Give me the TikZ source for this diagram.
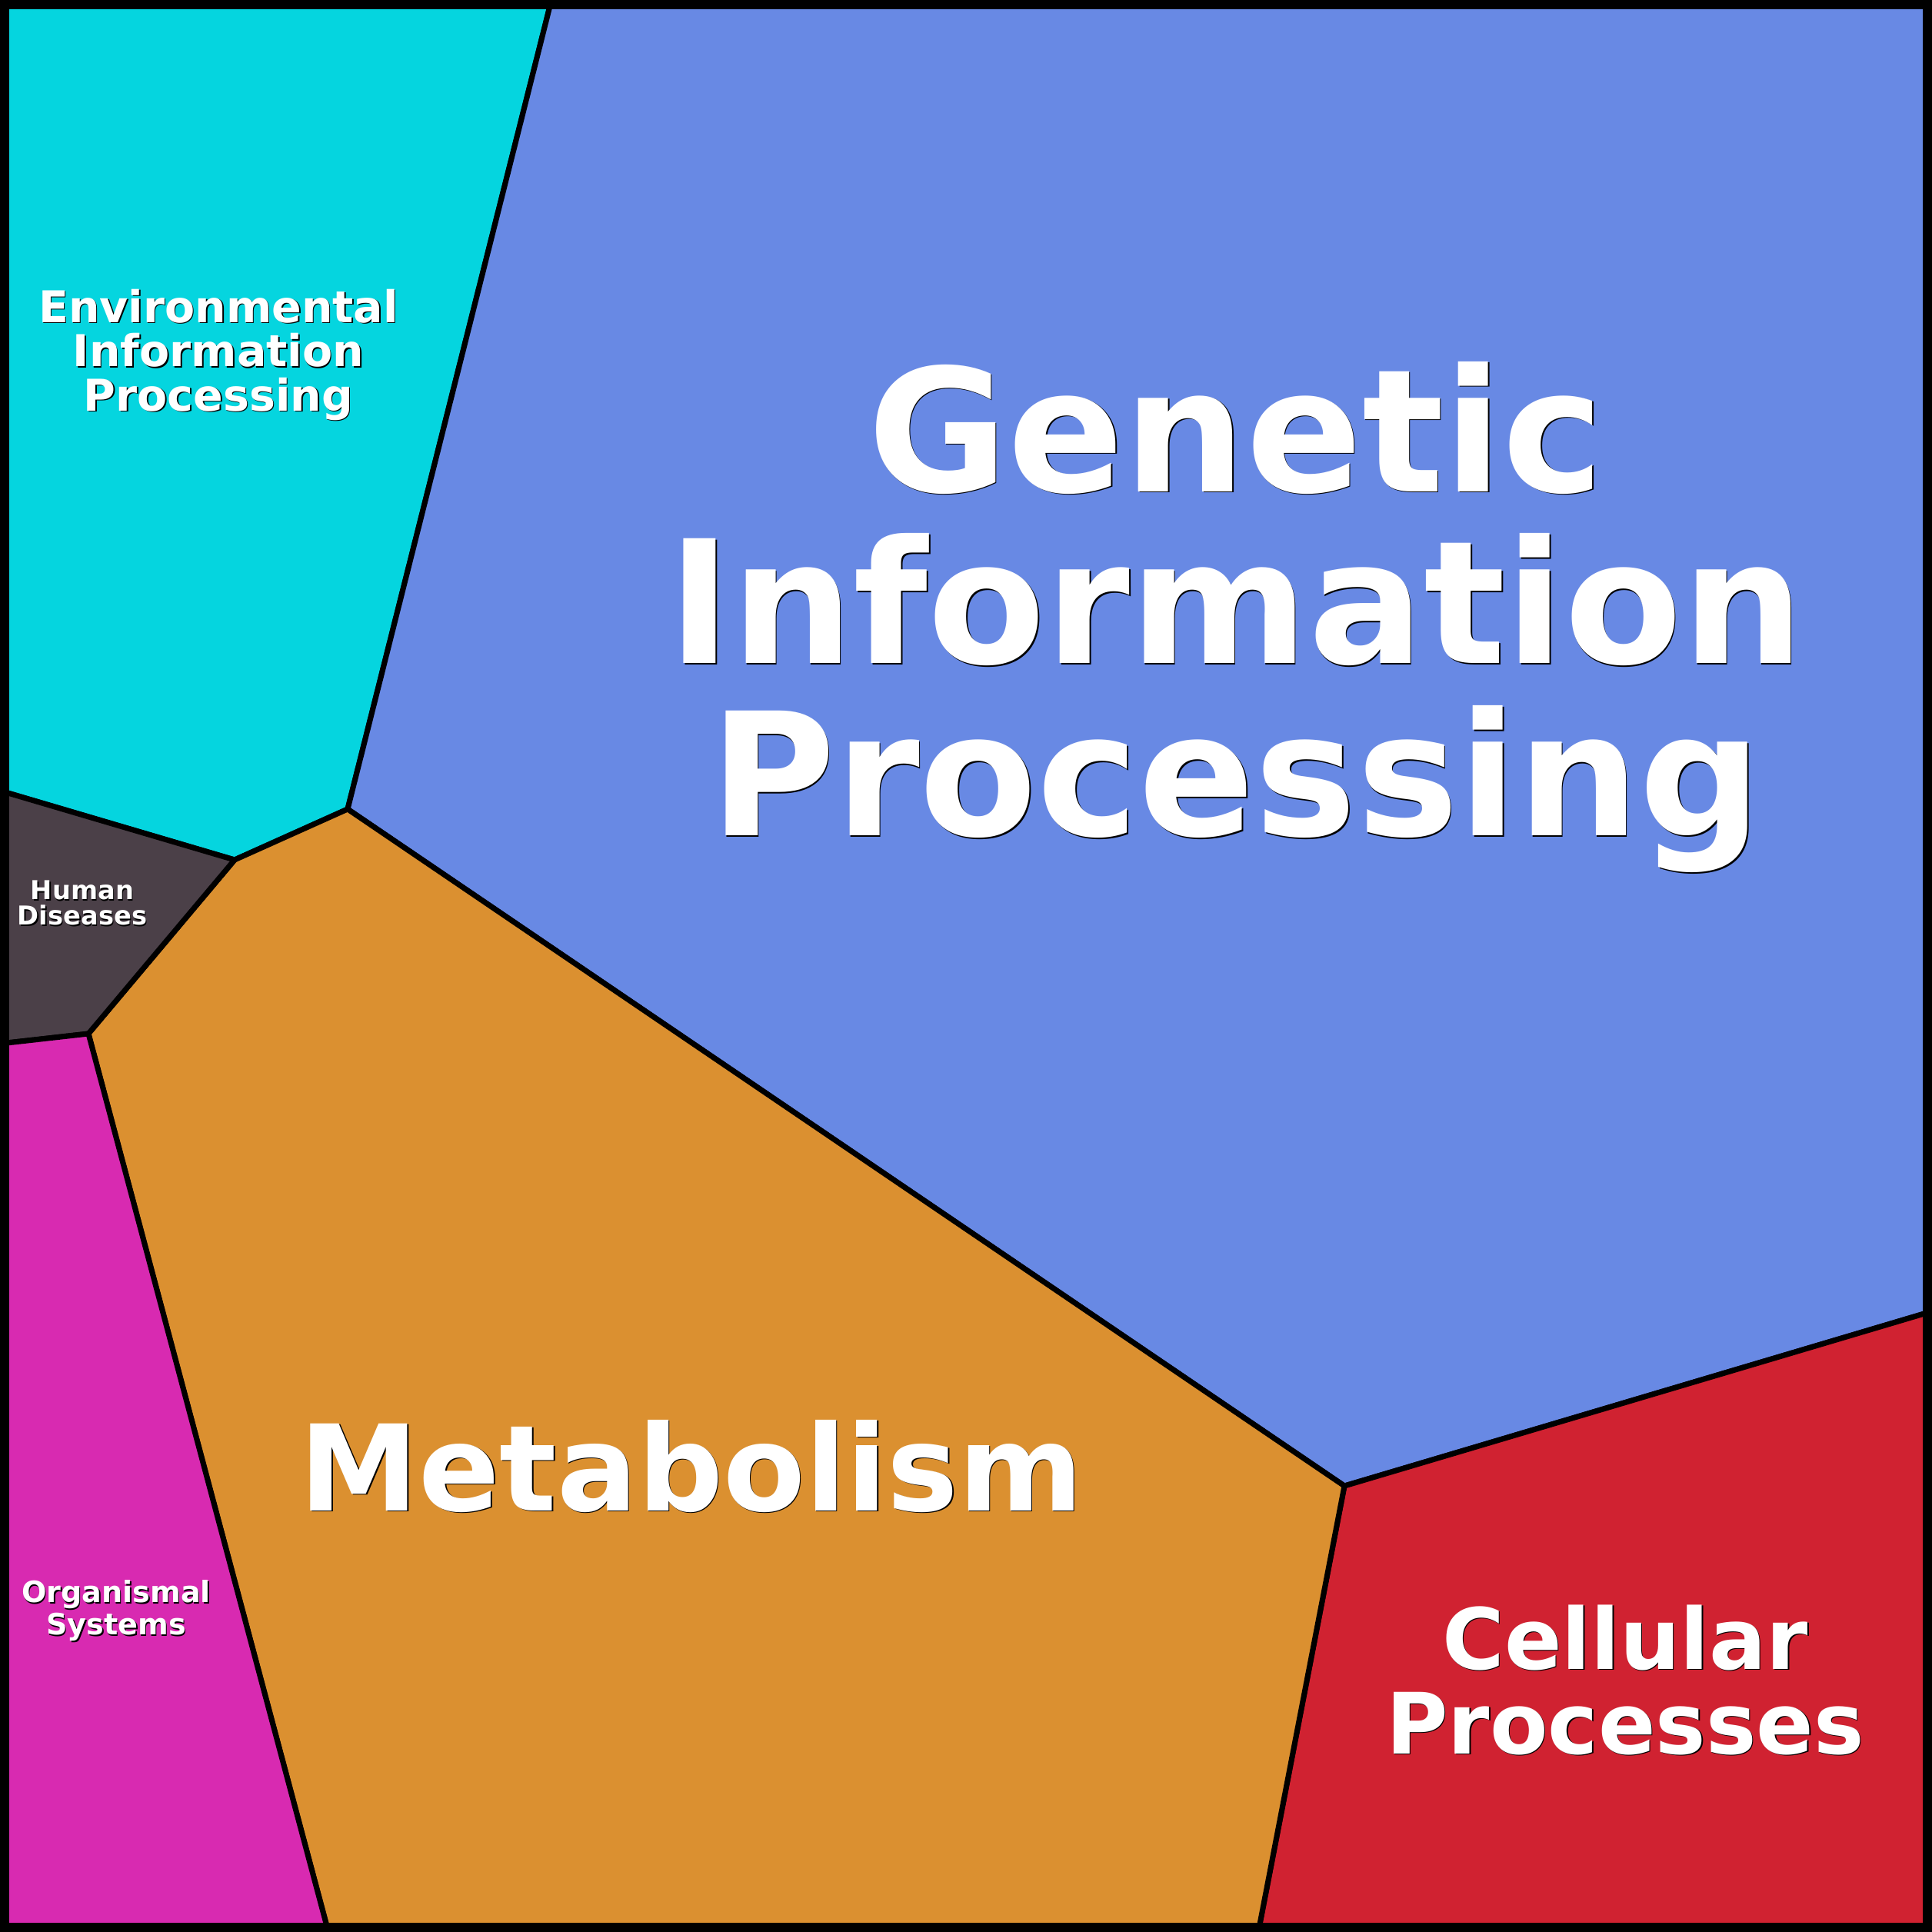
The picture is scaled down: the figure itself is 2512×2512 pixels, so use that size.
\documentclass[tikz,border=0pt]{standalone}
\usepackage{fontspec}
\setmainfont{DejaVu Sans}
\definecolor{envc}{RGB}{5,213,223}
\definecolor{genc}{RGB}{104,137,228}
\definecolor{metc}{RGB}{219,144,48}
\definecolor{celc}{RGB}{208,34,49}
\definecolor{humc}{RGB}{75,64,72}
\definecolor{orgc}{RGB}{216,42,177}
% white word with a thin dark shadow
\newcommand\shd[1]{\leavevmode\rlap{\kern0.45pt\raisebox{-0.45pt}{\color{black}#1}}#1}
\tikzset{
  cell/.style={draw=black,line width=0.07cm,line join=round},
  lbl/.style={text=white,align=center,inner sep=0pt,font=\bfseries}
}
\begin{document}
\begin{tikzpicture}[x=0.01cm,y=-0.01cm]
\useasboundingbox (0,0) rectangle (2512,2512);

% corners of the cells
\coordinate (top) at (717,0);
\coordinate (gm) at (452,1052);
\coordinate (eh) at (305,1118);
\coordinate (ho) at (115,1344);
\coordinate (gc) at (1748,1932);
\coordinate (rt) at (2512,1705);
\coordinate (bc) at (1636,2512);
\coordinate (bo) at (427,2512);
\coordinate (le) at (0,1028);
\coordinate (lo) at (0,1357);

\filldraw[cell,fill=envc] (0,0) -- (top) -- (gm) -- (eh) -- (le) -- cycle;
\filldraw[cell,fill=genc] (top) -- (2512,0) -- (rt) -- (gc) -- (gm) -- cycle;
\filldraw[cell,fill=celc] (gc) -- (rt) -- (2512,2512) -- (bc) -- cycle;
\filldraw[cell,fill=metc] (gm) -- (gc) -- (bc) -- (bo) -- (ho) -- (eh) -- cycle;
\filldraw[cell,fill=humc] (le) -- (eh) -- (ho) -- (lo) -- cycle;
\filldraw[cell,fill=orgc] (lo) -- (ho) -- (bo) -- (0,2512) -- cycle;

\draw[line width=0.12cm] (6,6) rectangle (2506,2506);

\node[lbl,font=\bfseries\fontsize{63.3}{63.6}\selectfont] (gen) at (1607,803) {\shd{Genetic}\\\shd{Information}\\\shd{Processing}};
\node[lbl,font=\bfseries\fontsize{44.2}{44.2}\selectfont] (met) at (899,1907) {\shd{Metabolism}};
\node[lbl,font=\bfseries\fontsize{31.3}{31.2}\selectfont] (cel) at (2113,2185) {\shd{Cellular}\\\shd{Processes}};
\node[lbl,font=\bfseries\fontsize{16.2}{16.4}\selectfont] (env) at (284,462) {\shd{Environmental}\\\shd{Information}\\\shd{Processing}};
\node[lbl,font=\bfseries\fontsize{9.6}{9.4}\selectfont] (hum) at (107,1175) {\shd{Human}\\\shd{Diseases}};
\node[lbl,font=\bfseries\fontsize{10.85}{8.9}\selectfont] (org) at (151,2095) {\shd{Organismal}\\\shd{Systems}};

\end{tikzpicture}
\end{document}
